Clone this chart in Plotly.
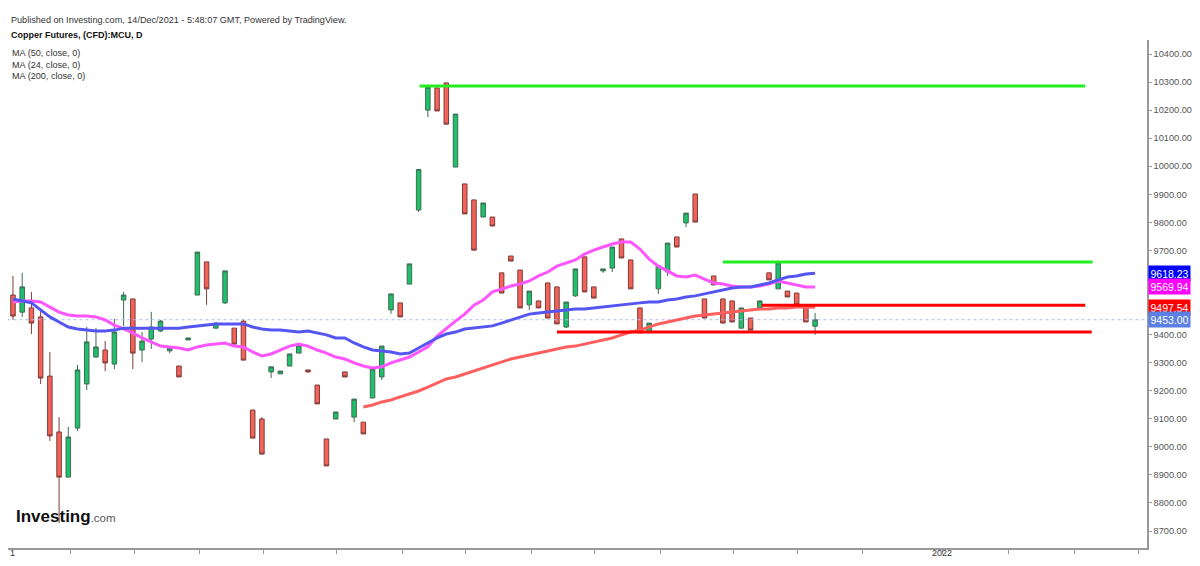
import plotly.graph_objects as go

# daily candles (first bar ~ mid Aug 2021, last bar 14 Dec 2021)
opens = [9541, 9480, 9495, 9463, 9252, 9053, 8892, 9067, 9224, 9320,
         9345, 9295, 9523, 9527, 9345, 9384, 9413, 9342, 9288, 9381,
         9541, 9659, 9423, 9513, 9423, 9448, 9131, 9099, 9267, 9260,
         9288, 9334, 9274, 9220, 9028, 9099, 9267, 9106, 9088, 9174,
         9249, 9488, 9513, 9580, 9844, 10200, 10279, 10297, 9997, 9937,
         9880, 9819, 9819, 9620, 9680, 9630, 9506, 9520, 9584, 9570,
         9427, 9538, 9677, 9570, 9627, 9637, 9741, 9666, 9495, 9409,
         9563, 9623, 9748, 9798, 9901, 9527, 9609, 9527, 9520, 9423,
         9459, 9495, 9620, 9563, 9555, 9548, 9502, 9430]
highs = [9609, 9620, 9552, 9488, 9338, 9106, 9071, 9292, 9427, 9423,
         9377, 9456, 9552, 9527, 9409, 9481, 9452, 9352, 9288, 9388,
         9694, 9659, 9441, 9627, 9423, 9456, 9131, 9106, 9285, 9270,
         9331, 9363, 9274, 9220, 9028, 9124, 9267, 9170, 9088, 9277,
         9359, 9545, 9513, 9652, 9988, 10282, 10279, 10297, 10186, 9937,
         9880, 9869, 9819, 9620, 9680, 9630, 9555, 9520, 9584, 9570,
         9516, 9634, 9677, 9570, 9634, 9712, 9741, 9666, 9495, 9441,
         9645, 9726, 9748, 9833, 9901, 9527, 9609, 9527, 9520, 9495,
         9459, 9520, 9620, 9655, 9555, 9548, 9502, 9477]
lows = [9452, 9463, 9402, 9224, 9021, 8728, 8892, 9056, 9202, 9317,
        9270, 9277, 9430, 9277, 9302, 9349, 9409, 9334, 9249, 9381,
        9541, 9506, 9423, 9509, 9366, 9309, 9031, 8974, 9245, 9260,
        9288, 9334, 9263, 9153, 8932, 9099, 9249, 9088, 9046, 9174,
        9238, 9474, 9463, 9580, 9837, 10175, 10197, 10150, 9997, 9830,
        9701, 9819, 9787, 9548, 9662, 9495, 9488, 9495, 9459, 9438,
        9423, 9534, 9552, 9530, 9620, 9623, 9673, 9563, 9406, 9409,
        9545, 9609, 9712, 9783, 9801, 9459, 9577, 9441, 9445, 9423,
        9416, 9495, 9595, 9563, 9534, 9506, 9445, 9399]
closes = [9466, 9570, 9441, 9245, 9039, 8892, 9035, 9274, 9374, 9356,
          9299, 9409, 9541, 9334, 9377, 9427, 9448, 9352, 9249, 9388,
          9694, 9563, 9441, 9627, 9366, 9309, 9031, 8974, 9285, 9270,
          9331, 9363, 9267, 9153, 8932, 9124, 9249, 9170, 9046, 9277,
          9359, 9545, 9463, 9652, 9988, 10282, 10197, 10150, 10186, 9830,
          9701, 9869, 9787, 9548, 9662, 9495, 9555, 9495, 9459, 9438,
          9516, 9634, 9552, 9530, 9634, 9712, 9673, 9563, 9406, 9441,
          9645, 9726, 9712, 9833, 9801, 9459, 9577, 9441, 9445, 9495,
          9416, 9520, 9595, 9655, 9534, 9506, 9445, 9453]

# moving averages as drawn on the chart
ma50 = [9527, 9520, 9513, 9488, 9463, 9445, 9427, 9420, 9416, 9413,
        9413, 9416, 9423, 9423, 9423, 9423, 9423, 9423, 9423, 9427,
        9431, 9434, 9438, 9438, 9438, 9438, 9427, 9420, 9416, 9416,
        9413, 9409, 9413, 9406, 9399, 9388, 9388, 9370, 9356, 9345,
        9342, 9338, 9331, 9334, 9352, 9370, 9388, 9402, 9409, 9420,
        9423, 9427, 9431, 9441, 9452, 9463, 9473, 9477, 9480, 9484,
        9488, 9491, 9491, 9495, 9498, 9502, 9505, 9509, 9513, 9516,
        9516, 9523, 9527, 9534, 9538, 9545, 9552, 9559, 9566, 9570,
        9570, 9577, 9584, 9595, 9605, 9609, 9616, 9618.23]
ma24 = [9516, 9520, 9520, 9516, 9498, 9480, 9470, 9466, 9466, 9463,
        9452, 9434, 9420, 9406, 9388, 9374, 9359, 9356, 9352, 9345,
        9356, 9363, 9366, 9370, 9359, 9356, 9338, 9324, 9331, 9345,
        9359, 9366, 9359, 9345, 9334, 9320, 9313, 9299, 9288, 9281,
        9285, 9299, 9309, 9320, 9338, 9356, 9395, 9423, 9448, 9473,
        9505, 9523, 9552, 9562, 9573, 9580, 9591, 9609, 9623, 9644,
        9655, 9666, 9687, 9701, 9712, 9723, 9730, 9730, 9705, 9669,
        9644, 9627, 9609, 9605, 9612, 9598, 9584, 9580, 9573, 9570,
        9570, 9573, 9580, 9591, 9584, 9577, 9570, 9569.94]
ma200_start = 38
ma200 = [9142, 9149, 9160, 9167, 9178, 9188, 9199, 9213, 9227, 9242,
         9249, 9260, 9270, 9281, 9292, 9302, 9313, 9320, 9327, 9334,
         9342, 9349, 9356, 9359, 9366, 9374, 9381, 9388, 9399, 9409,
         9416, 9427, 9438, 9445, 9452, 9459, 9466, 9470, 9473, 9477,
         9480, 9484, 9488, 9491, 9491, 9495, 9495, 9498, 9498, 9497.54]

# drawn support / resistance levels (price, from bar, to bar)
level_prices = [10286, 9659, 9505, 9409]
level_from = [44.1, 77.0, 81.2, 59.0]
level_to = [116.3, 117.1, 116.3, 117.0]
level_colors = ["#22ee22", "#22ee22", "#ff0000", "#ff0000"]

last_price = 9453.00
x_ticks = [6.2, 13.2, 20.2, 27.2, 35.1, 42.2, 49.1, 56.2, 63.1,
           70.2, 78.1, 85.1, 92.1, 100.8, 108.0, 115.1, 122.1]
first_label = "1"
year_label = "2022"
year_tick = 100.8
y_ticks = [8700, 8800, 8900, 9000, 9100, 9200, 9300, 9400,
           9700, 9800, 9900, 10000, 10100, 10200, 10300, 10400]

bars = list(range(len(opens)))

fig = go.Figure()

fig.add_trace(go.Candlestick(
    x=bars, open=opens, high=highs, low=lows, close=closes,
    increasing=dict(fillcolor="#1ec06c", line=dict(color="#3f6b52", width=1)),
    decreasing=dict(fillcolor="#f4625a", line=dict(color="#7d3c38", width=1)),
    showlegend=False, hoverinfo="skip",
))

# current price dotted line
fig.add_trace(go.Scatter(x=[-0.6, 123.0], y=[last_price, last_price], mode="lines",
                         line=dict(color="#aabdf0", width=1, dash="dot"),
                         showlegend=False, hoverinfo="skip"))

fig.add_trace(go.Scatter(x=bars[ma200_start:], y=ma200, mode="lines",
                         line=dict(color="#ff5f5f", width=3), showlegend=False))
fig.add_trace(go.Scatter(x=bars, y=ma24, mode="lines",
                         line=dict(color="#ff55ff", width=3), showlegend=False))
fig.add_trace(go.Scatter(x=bars, y=ma50, mode="lines",
                         line=dict(color="#5555f2", width=3), showlegend=False))

for p, a, b, c in zip(level_prices, level_from, level_to, level_colors):
    fig.add_trace(go.Scatter(x=[a, b], y=[p, p], mode="lines",
                             line=dict(color=c, width=3), showlegend=False))

# price tags on the right axis
tags = [(ma50[-1], "#0000ff"), (ma24[-1], "#ff00ff"),
        (ma200[-1], "#ff0000"), (last_price, "#5b7fe3")]
for val, col in tags:
    fig.add_annotation(x=1, xref="paper", y=val, yref="y", xanchor="left",
                       text=f"{val:.2f}", showarrow=False, bgcolor=col,
                       font=dict(color="white", size=10.5, family="Liberation Sans"),
                       borderpad=1.5, xshift=1)

txt_font = dict(family="Liberation Sans, Arial", size=9.1, color="#333")
fig.add_annotation(x=0.001, y=1.053, xref="paper", yref="paper", xanchor="left",
                   text="Published on Investing.com, 14/Dec/2021 - 5:48:07 GMT, Powered by TradingView.",
                   showarrow=False, font=txt_font)
fig.add_annotation(x=0.001, y=1.0236, xref="paper", yref="paper", xanchor="left",
                   text="<b>Copper Futures, (CFD):MCU, D</b>", showarrow=False,
                   font=dict(family="Liberation Sans, Arial", size=9, color="#111"))
for i, t in enumerate(["MA (50, close, 0)", "MA (24, close, 0)", "MA (200, close, 0)"]):
    fig.add_annotation(x=0.002, y=0.988 - i * 0.0227, xref="paper", yref="paper",
                       xanchor="left", text=t, showarrow=False, font=txt_font)

fig.add_annotation(x=0.005, y=0.04, xref="paper", yref="paper", xanchor="left",
                   text="<b>Investing</b><span style='font-size:11.5px;color:#555'>.com</span>",
                   showarrow=False,
                   font=dict(family="Liberation Sans", size=17, color="#111"))

# x labels sit just under the axis line
lab_font = dict(size=9, color="#333", family="Liberation Sans")
fig.add_annotation(x=0, y=-0.01, xref="paper", yref="paper", xanchor="left",
                   yanchor="middle", text=first_label, showarrow=False, font=lab_font)
fig.add_annotation(x=year_tick, y=-0.01, xref="x", yref="paper", yanchor="middle",
                   text=year_label, showarrow=False, font=lab_font)

fig.update_layout(
    width=1184, height=550,
    margin=dict(l=0, r=45, t=32, b=10),
    paper_bgcolor="white", plot_bgcolor="white",
    xaxis=dict(range=[-0.54, 123.0], rangeslider=dict(visible=False),
               tickvals=x_ticks, showticklabels=False, ticks="outside", ticklen=4,
               tickcolor="#999", showline=True, linecolor="#999", linewidth=1.5,
               showgrid=False, zeroline=False, automargin=False),
    yaxis=dict(side="right", range=[8639.4, 10449.9], tickvals=y_ticks,
               tickformat=".2f", ticks="outside", ticklen=3, tickcolor="#999",
               showline=True, linecolor="#999", linewidth=1.5, showgrid=False,
               zeroline=False, automargin=False,
               tickfont=dict(size=9.2, color="#555", family="Liberation Sans")),
)

fig.write_html("out.html")
